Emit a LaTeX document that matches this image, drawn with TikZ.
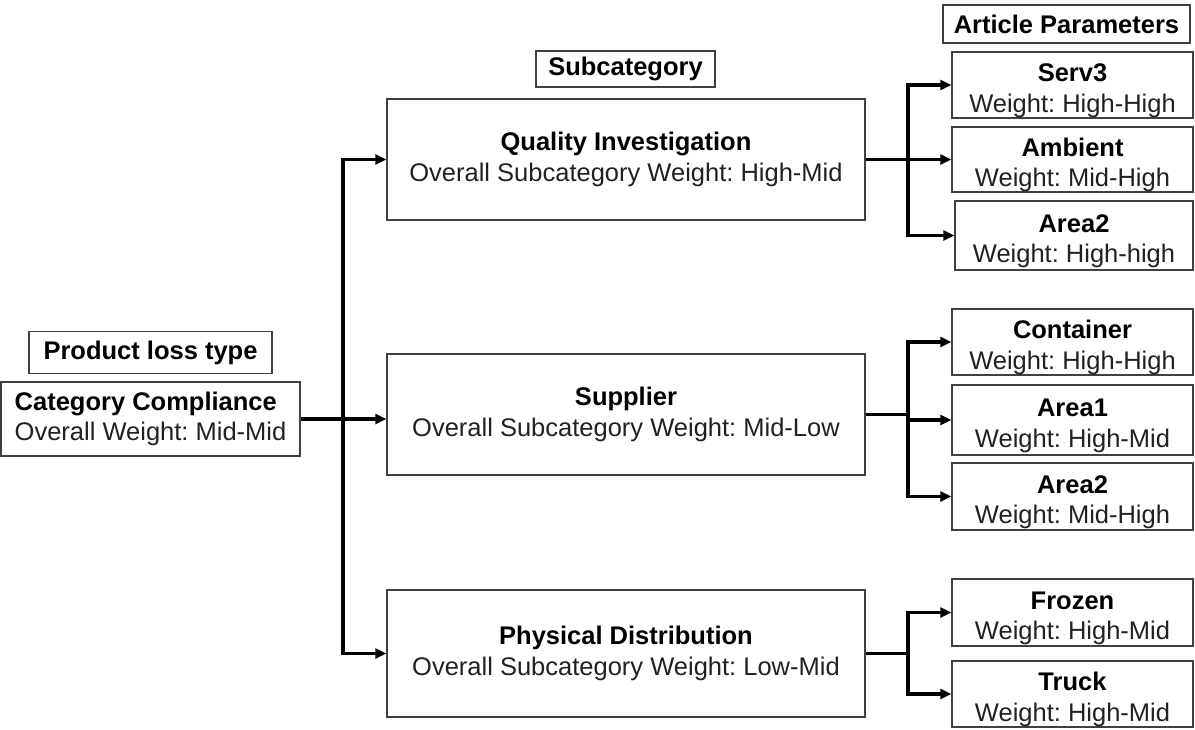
\documentclass[tikz,border=0pt]{standalone}
\usepackage{fontspec}
\setmainfont{Liberation Sans}
\usetikzlibrary{arrows.meta}
\definecolor{boxline}{gray}{0.25}
\definecolor{txt}{gray}{0.13}
\frenchspacing
\tikzset{
  x=1pt, y=-1pt,
  every node/.style={font=\fontsize{25.5}{30.5}\selectfont, text=txt, inner sep=0pt},
  labelbox/.style={draw=boxline, line width=1.3pt, align=center},
  itembox/.style={draw=boxline, line width=1.3pt, align=center, minimum width=241pt, minimum height=66pt},
  subbox/.style={draw=boxline, line width=1.3pt, align=center, minimum width=478pt, minimum height=121pt},
  wire/.style={line width=3.8pt, line join=miter, draw=black},
  conn/.style={wire, -{Triangle[length=11pt,width=10pt]}}
}
\newcommand{\hd}[1]{\textbf{\color{black}#1}}
% title line of a parameter box, set a little lower
\newcommand{\ttl}[1]{\rule{0pt}{29pt}\hd{#1}}
\begin{document}
\begin{tikzpicture}
\useasboundingbox (0,0) rectangle (1195,729);

% column headings
\node[labelbox, minimum width=243pt, minimum height=42pt] (plt) at (150.5,352.5) {\hd{Product loss type}};
\node[labelbox, minimum width=179pt, minimum height=36pt] (subhd) at (625.5,69) {\hd{Subcategory}};
\node[labelbox, minimum width=247pt, minimum height=38pt] (arthd) at (1066.5,24) {\hd{Article Parameters}};

% category
\node[labelbox, align=left, minimum width=299pt, minimum height=74pt] (cc) at (150.5,419)
  {\hd{Category Compliance}\\Overall Weight: Mid-Mid};

% subcategories
\node[subbox] (qi) at (626,159.5) {\hd{Quality Investigation}\\Overall Subcategory Weight: High-Mid};
\node[subbox] (sup) at (626,414.5) {\hd{Supplier}\\Overall Subcategory Weight: Mid-Low};
\node[subbox, minimum height=127pt] (pd) at (626,653.5) {\hd{Physical Distribution}\\Overall Subcategory Weight: Low-Mid};

% article parameters
\node[itembox] (serv) at (1072.5,85) {\ttl{Serv3}\\Weight: High-High};
\node[itembox, minimum height=65pt] (amb) at (1072.5,159.5) {\ttl{Ambient}\\Weight: Mid-High};
\node[itembox, minimum width=238pt, minimum height=69pt] (areaa) at (1074,235.5) {\ttl{Area2}\\Weight: High-high};
\node[itembox] (cont) at (1072.5,342) {\ttl{Container}\\Weight: High-High};
\node[itembox, minimum height=70pt] (areab) at (1072.5,420) {\ttl{Area1}\\Weight: High-Mid};
\node[itembox, minimum height=67pt] (areac) at (1072.5,496.5) {\ttl{Area2}\\Weight: Mid-High};
\node[itembox, minimum height=67pt] (froz) at (1072.5,612.5) {\ttl{Frozen}\\Weight: High-Mid};
\node[itembox] (truck) at (1072.5,694) {\ttl{Truck}\\Weight: High-Mid};

% bus lines
\coordinate (busL) at (343,0);
\coordinate (busR) at (908,0);

% category to subcategories
\draw[conn] (cc.east) -- (cc.east -| sup.west);
\draw[conn] (busL |- cc.east) |- (qi.west);
\draw[conn] (busL |- cc.east) |- (pd.west);

% quality investigation branch
\draw[wire] (qi.east) -- (busR |- qi.east);
\draw[conn] (busR |- qi.east) |- (serv.west);
\draw[conn] (busR |- qi.east) -- (amb.west);
\draw[conn] (busR |- qi.east) |- (areaa.west);

% supplier branch
\draw[wire] (sup.east) -- (busR |- sup.east);
\draw[conn] (busR |- sup.east) |- (cont.west);
\draw[conn] (busR |- sup.east) |- (areab.west);
\draw[conn] (busR |- sup.east) |- (areac.west);

% physical distribution branch
\draw[wire] (pd.east) -- (busR |- pd.east);
\draw[conn] (busR |- pd.east) |- (froz.west);
\draw[conn] (busR |- pd.east) |- (truck.west);
\end{tikzpicture}
\end{document}
